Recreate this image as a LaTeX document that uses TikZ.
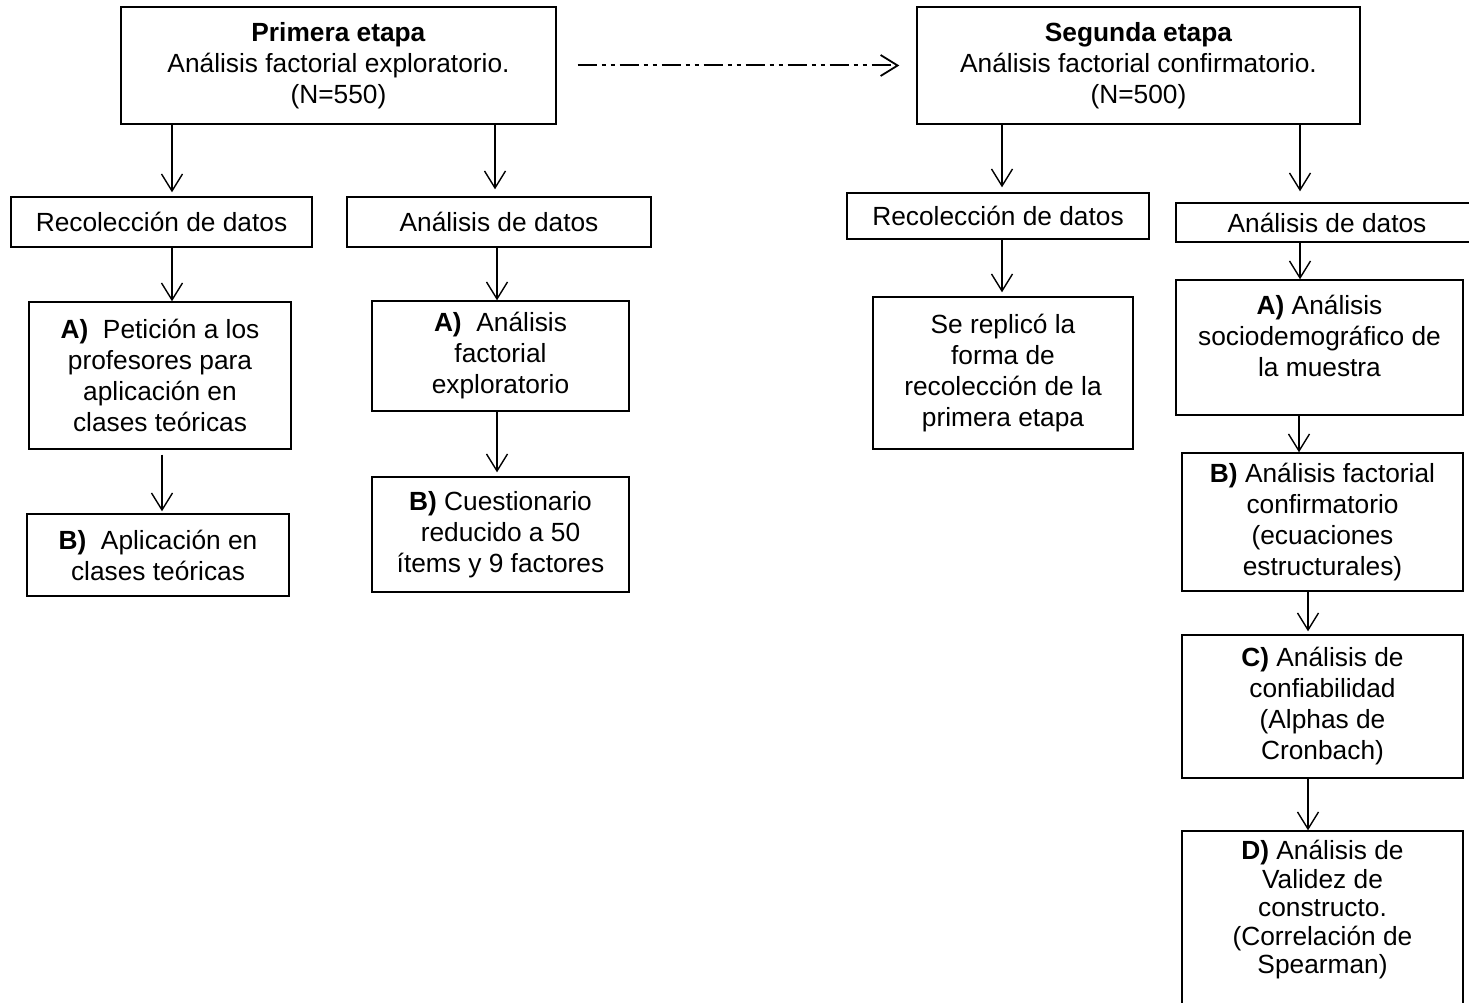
\documentclass[tikz,border=0pt]{standalone}
\usepackage{fontspec}
\setmainfont{Liberation Sans}
\usetikzlibrary{arrows.meta}
\begin{document}
\begin{tikzpicture}[x=1pt,y=-1pt,
  box/.style={draw=black,line width=1.4pt,inner sep=0pt,align=center,
    font=\fontsize{26.3}{31}\selectfont},
  arr/.style={line width=1.4pt,-{Straight Barb[length=17pt,width=21pt,line width=1.4pt]}},
  dasharr/.style={line width=2pt,dash pattern=on 19pt off 5pt on 4pt off 5pt on 4pt off 5pt,
    -{Straight Barb[length=17pt,width=21pt,line width=1.8pt]}}]
\useasboundingbox (0,0) rectangle (1469,1003);

% boxes
\node[box,minimum width=435pt,minimum height=117pt] (prim) at (338.5,65.5)
  {\textbf{Primera etapa}\\Análisis factorial exploratorio.\\(N=550)};
\node[box,minimum width=443pt,minimum height=117pt] (seg) at (1138.5,65.5)
  {\textbf{Segunda etapa}\\Análisis factorial confirmatorio.\\(N=500)};

\node[box,minimum width=301pt,minimum height=50pt] (rec1) at (161.5,222) {Recolección de datos};
\node[box,minimum width=304pt,minimum height=50pt] (ana1) at (499,222) {Análisis de datos};

\node[box,minimum width=262pt,minimum height=147pt] (pA) at (160,375.5)
  {\textbf{A)}\ \ Petición a los\\profesores para\\aplicación en\\clases teóricas};
\node[box,minimum width=262pt,minimum height=82pt] (pB) at (158,555)
  {\textbf{B)}\ \ Aplicación en\\clases teóricas};

\node[box,minimum width=257pt,minimum height=110pt] (aA) at (500.5,356)
  {\textbf{A)}\ \ Análisis\\factorial\\exploratorio};
\node[box,minimum width=257pt,minimum height=115pt] (aB) at (500.5,534.5)
  {\textbf{B)} Cuestionario\\reducido a 50\\ítems y 9 factores};

\node[box,minimum width=302pt,minimum height=46pt] (rec2) at (998,216) {Recolección de datos};
\node[box,minimum width=302pt,minimum height=39pt] (ana2) at (1327,222.5) {Análisis de datos};

\node[box,minimum width=260pt,minimum height=152pt] (rep) at (1003,373)
  {Se replicó la\\forma de\\recolección de la\\primera etapa};

\node[box,minimum width=287pt,minimum height=135pt] (sA) at (1319.5,347.5)
  {\textbf{A)} Análisis\\sociodemográfico de\\la muestra\\[-8pt]\mbox{}};
\node[box,minimum width=281pt,minimum height=138pt] (sB) at (1322.5,522)
  {\textbf{B)} Análisis factorial\\confirmatorio\\(ecuaciones\\estructurales)};
\node[box,minimum width=281pt,minimum height=143pt] (sC) at (1322.5,706.5)
  {\textbf{C)} Análisis de\\confiabilidad\\(Alphas de\\Cronbach)};
\node[box,minimum width=281pt,minimum height=184pt,font=\fontsize{26.3}{28.5}\selectfont] (sD) at (1322.5,923)
  {\textbf{D)} Análisis de\\Validez de\\constructo.\\(Correlación de\\Spearman)\\[3pt]\mbox{}};

% arrow columns
\coordinate (x1) at (172,0);
\coordinate (x2) at (495,0);
\coordinate (x3) at (162,0);
\coordinate (x4) at (497,0);
\coordinate (x5) at (1002,0);
\coordinate (x6) at (1300,0);
\coordinate (x7) at (1299,0);
\coordinate (x8) at (1308,0);

% connectors
\draw[arr,shorten >=4pt] (prim.south -| x1) -- (rec1.north -| x1);
\draw[arr,shorten >=7pt] (prim.south -| x2) -- (ana1.north -| x2);
\draw[arr] (rec1.south -| x1) -- (pA.north -| x1);
\draw[arr,shorten <=5pt,shorten >=2pt] (pA.south -| x3) -- (pB.north -| x3);
\draw[arr] (ana1.south -| x4) -- (aA.north -| x4);
\draw[arr,shorten >=4pt] (aA.south -| x4) -- (aB.north -| x4);

\draw[arr,shorten >=5pt] (seg.south -| x5) -- (rec2.north -| x5);
\draw[arr,shorten >=11pt] (seg.south -| x6) -- (ana2.north -| x6);
\draw[arr,shorten >=4pt] (rec2.south -| x5) -- (rep.north -| x5);
\draw[arr] (ana2.south -| x6) -- (sA.north -| x6);
\draw[arr] (sA.south -| x7) -- (sB.north -| x7);
\draw[arr,shorten >=3pt] (sB.south -| x8) -- (sC.north -| x8);
\draw[arr] (sC.south -| x8) -- (sD.north -| x8);

\draw[dasharr,shorten <=21pt,shorten >=17pt] (prim.east) -- (seg.west);
\end{tikzpicture}
\end{document}
